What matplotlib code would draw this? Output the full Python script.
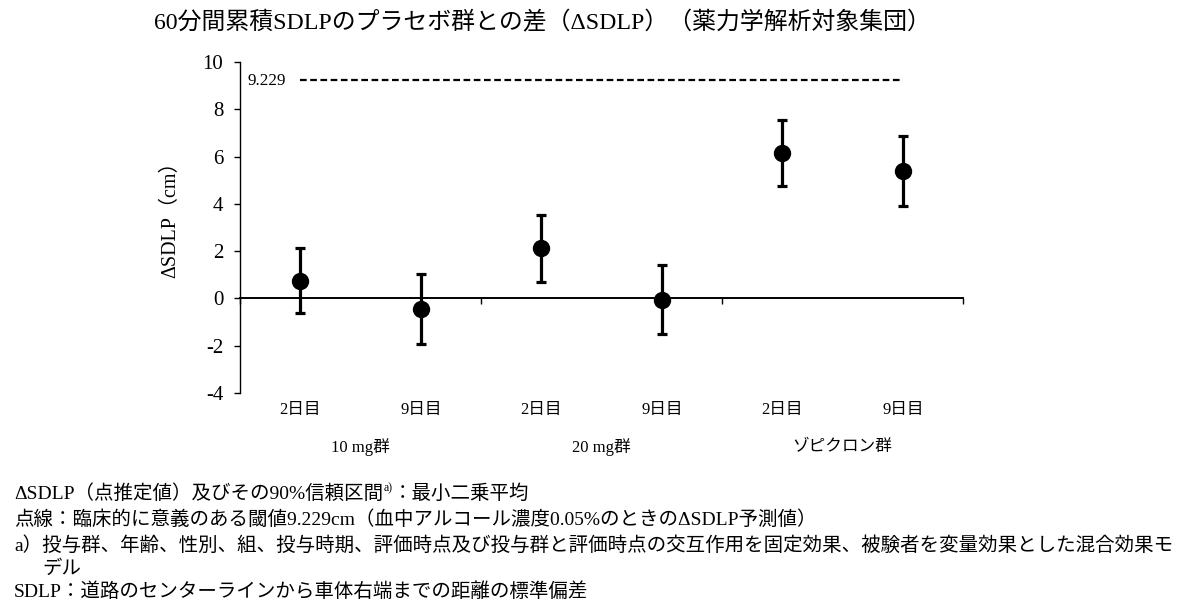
import numpy as np
import matplotlib
matplotlib.use("Agg")
import matplotlib.pyplot as plt
from matplotlib.transforms import blended_transform_factory

plt.rcParams["font.family"] = ["Liberation Serif", "Noto Sans CJK JP"]
plt.rcParams["axes.unicode_minus"] = False

# ── data ─────────────────────────────────────────────────────────────────
GROUPS = ["10 mg群", "20 mg群", "ゾピクロン群"]
DAYS = ["2日目", "9日目", "2日目", "9日目", "2日目", "9日目"]
EST = np.array([0.74, -0.46, 2.12, -0.07, 6.16, 5.40])
LOWER = np.array([-0.63, -1.93, 0.69, -1.52, 4.75, 3.92])
UPPER = np.array([2.14, 1.02, 3.54, 1.40, 7.55, 6.87])
THRESHOLD = 9.229

TITLE = "60分間累積SDLPのプラセボ群との差（ΔSDLP）（薬力学解析対象集団）"
NOTES = [
    "点線：臨床的に意義のある閾値9.229cm（血中アルコール濃度0.05%のときのΔSDLP予測値）",
    "a）投与群、年齢、性別、組、投与時期、評価時点及び投与群と評価時点の交互作用を固定効果、被験者を変量効果とした混合効果モ",
    "SDLP：道路のセンターラインから車体右端までの距離の標準偏差",
]

# ── figure ───────────────────────────────────────────────────────────────
fig = plt.figure(figsize=(11.87, 6.13), dpi=100)
ax = fig.add_axes([0.2022, 0.3589, 0.8113 - 0.2022, 0.8989 - 0.3589])

x = np.arange(len(EST)) + 0.5
ax.errorbar(x, EST, yerr=[EST - LOWER, UPPER - EST], fmt="o", color="black",
            markersize=11.5, elinewidth=2.3, capsize=3.5, capthick=2.3)
ax.plot([x[0], x[-1]], [THRESHOLD, THRESHOLD], color="black", linestyle=(0, (3, 1.6)),
        linewidth=1.6)
ax.text(0.06, THRESHOLD - 0.05, f"{THRESHOLD}", fontsize=12.3, va="center", ha="left")

ax.set_xlim(0, 6)
ax.set_ylim(-4, 10)
ax.set_yticks(np.arange(-4, 11, 2))
ax.tick_params(axis="y", labelsize=15, length=4, width=1, direction="out", pad=8)
ax.set_xticks([0, 2, 4, 6])
ax.set_xticklabels([])
ax.tick_params(axis="x", length=4, width=1, direction="out")
ax.spines["bottom"].set_position(("data", 0))
ax.spines["top"].set_visible(False)
ax.spines["right"].set_visible(False)
ax.spines["bottom"].set_linewidth(1.4)
ax.spines["left"].set_linewidth(1.0)

ax.set_ylabel("ΔSDLP（cm）", fontsize=14.5)
ax.yaxis.set_label_coords(-0.082, 0.54)

tr = blended_transform_factory(ax.transData, fig.transFigure)
for xi, d in zip(x, DAYS):
    ax.text(xi, 1 - 410 / 613, d, transform=tr, ha="center", va="center", fontsize=12)
for i, g in enumerate(GROUPS):
    ax.text(2 * i + 1, 1 - 447 / 613, g, transform=tr, ha="center", va="center", fontsize=12)

fig.text(542 / 1187, 1 - 23 / 613, TITLE, ha="center", va="center", fontsize=17.2)

# footnotes
renderer = fig.canvas.get_renderer()
fs = 14
t1 = fig.text(14 / 1187, 1 - 494 / 613, "ΔSDLP（点推定値）及びその90%信頼区間", fontsize=fs, va="center")
bb = t1.get_window_extent(renderer)
x1 = bb.x1 / fig.bbox.width
fig.text(x1, 1 - 488 / 613, "a)", fontsize=8.5, va="center")
fig.text(x1 + 10 / 1187, 1 - 494 / 613, "：最小二乗平均", fontsize=fs, va="center")
fig.text(14 / 1187, 1 - 520 / 613, NOTES[0], fontsize=fs, va="center")
fig.text(14 / 1187, 1 - 545 / 613, NOTES[1], fontsize=fs, va="center")
fig.text(42 / 1187, 1 - 569 / 613, "デル", fontsize=fs, va="center")
fig.text(14 / 1187, 1 - 592 / 613, NOTES[2], fontsize=fs, va="center")

fig.savefig("out.png", dpi=100)
